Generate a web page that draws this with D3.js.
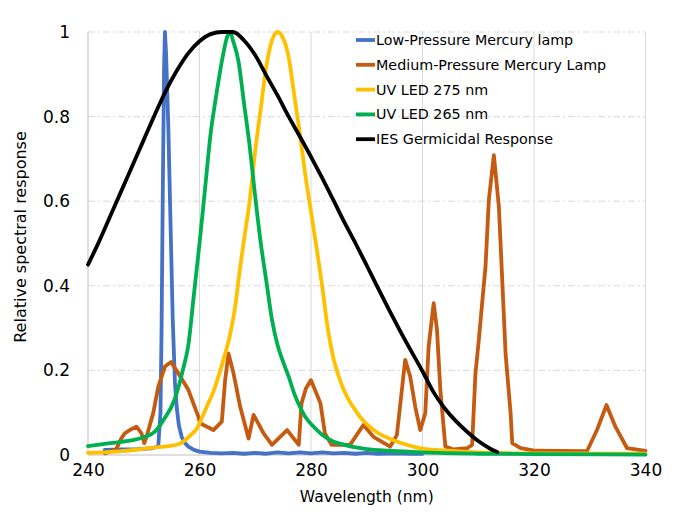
<!DOCTYPE html>
<html>
<head>
<meta charset="utf-8">
<script src="https://cdn.jsdelivr.net/npm/d3@7"></script>
<style>
  body { margin: 0; background: #fff; }
  svg { display: block; font-family: "DejaVu Sans", sans-serif; }
</style>
</head>
<body>
<svg id="chart" width="678" height="519"></svg>
<script>
// Low-pressure mercury lamp [nm, relative]
const lowPressure = [
  [243, 0.012], [246, 0.013], [249, 0.014], [251.5, 0.016], [252.6, 0.02],
  [253.0, 0.1], [253.2, 0.3], [253.4, 0.6], [253.65, 0.92], [253.8, 1.0],
  [254.0, 0.95], [254.4, 0.78], [254.8, 0.55], [255.2, 0.32], [255.6, 0.17],
  [255.9, 0.114], [256.3, 0.07], [256.8, 0.043], [257.4, 0.028], [258, 0.02],
  [259, 0.012], [260, 0.008], [262, 0.005], [264, 0.004], [266, 0.005],
  [268, 0.003], [270, 0.005], [272, 0.003], [274, 0.006], [276, 0.004],
  [278, 0.006], [280, 0.004], [282, 0.006], [284, 0.004], [286, 0.005],
  [288, 0.003], [290, 0.005], [292, 0.003], [295, 0.004], [298, 0.003], [300, 0.003]
];

// Medium-pressure mercury lamp
const mediumPressure = [
  [243, 0.004], [245, 0.012], [246, 0.04], [246.6, 0.051], [247.5, 0.059],
  [248.7, 0.067], [249.6, 0.051], [250.1, 0.028], [250.5, 0.043], [251.7, 0.099],
  [252.6, 0.161], [253.8, 0.209], [254.9, 0.22], [256.2, 0.193], [258, 0.154],
  [259.8, 0.09], [260.1, 0.075], [262.5, 0.059], [264, 0.079], [264.6, 0.177],
  [265.2, 0.24], [266.1, 0.193], [267.3, 0.114], [268.8, 0.039], [269.7, 0.095],
  [271.5, 0.051], [273, 0.024], [275.7, 0.059], [277.8, 0.024], [278.3, 0.122],
  [279.1, 0.158], [280, 0.177], [281.7, 0.122], [282.5, 0.051], [283.7, 0.024],
  [287, 0.024], [289.4, 0.071], [291.2, 0.043], [294.2, 0.02], [295.4, 0.047],
  [296.3, 0.154], [296.9, 0.225], [297.8, 0.185], [298.7, 0.114], [299.6, 0.059],
  [300.5, 0.099], [301.1, 0.256], [302, 0.359], [302.6, 0.296], [303.2, 0.154],
  [304.1, 0.02], [305.6, 0.013], [308, 0.016], [308.9, 0.024], [309.5, 0.193],
  [310.1, 0.272], [310.7, 0.359], [311.3, 0.445], [311.9, 0.603], [312.8, 0.709],
  [313.7, 0.587], [314.3, 0.414], [314.9, 0.24], [315.8, 0.099], [316.1, 0.028],
  [317.6, 0.016], [320.3, 0.01], [329.5, 0.009], [331.3, 0.059], [333, 0.118],
  [334.6, 0.067], [336.7, 0.016], [340, 0.01]
];

// UV LED 275 nm
const led275 = [
  [240, 0.005], [245, 0.008], [249, 0.013], [252, 0.018], [255, 0.022],
  [256.5, 0.027], [257.5, 0.036], [258.5, 0.048], [259.5, 0.062], [260.5, 0.09],
  [261.5, 0.12], [262.5, 0.15], [263.5, 0.19], [264.5, 0.235], [265.5, 0.285],
  [266.5, 0.36], [267, 0.414], [268, 0.51], [269, 0.6], [270, 0.72], [271, 0.82],
  [272, 0.92], [273, 0.98], [274, 1.0], [275, 0.985], [276, 0.94], [277, 0.85],
  [278, 0.76], [279, 0.66], [280, 0.575], [281, 0.49], [282, 0.4], [283, 0.3],
  [284, 0.23], [285, 0.185], [286, 0.15], [287, 0.125], [288, 0.105], [289, 0.087],
  [290, 0.073], [292, 0.052], [294, 0.039], [296, 0.029], [298, 0.021], [300, 0.015],
  [305, 0.01], [310, 0.006], [320, 0.004], [340, 0.003]
];

// UV LED 265 nm
const led265 = [
  [240, 0.021], [244, 0.028], [248, 0.035], [250, 0.042], [252, 0.055],
  [254, 0.092], [255, 0.115], [256, 0.15], [257, 0.2], [258, 0.26], [259, 0.38],
  [260, 0.5], [261, 0.63], [262, 0.76], [263, 0.85], [264, 0.93], [265, 0.99],
  [265.5, 1.0], [266, 0.98], [267, 0.93], [268, 0.83], [269, 0.73], [270, 0.61],
  [271, 0.5], [272, 0.41], [273, 0.32], [274, 0.26], [275, 0.22], [276, 0.185],
  [277, 0.145], [278, 0.114], [279, 0.09], [280, 0.073], [281, 0.06], [282, 0.048],
  [284, 0.032], [286, 0.024], [288, 0.018], [290, 0.014], [294, 0.01], [300, 0.006],
  [310, 0.003], [320, 0.002], [340, 0.001]
];

// IES germicidal response
const iesGermicidal = [
  [240, 0.45], [242, 0.505], [244, 0.565], [246, 0.625], [248, 0.685], [250, 0.745],
  [252, 0.805], [254, 0.862], [256, 0.91], [258, 0.95], [260, 0.978], [262, 0.995],
  [264, 1.0], [266, 1.0], [268, 0.98], [270, 0.945], [272, 0.897], [274, 0.85],
  [276, 0.8], [278, 0.753], [280, 0.705], [282, 0.655], [284, 0.603], [286, 0.55],
  [288, 0.5], [290, 0.448], [292, 0.395], [294, 0.343], [296, 0.293], [298, 0.245],
  [300, 0.198], [302, 0.148], [304, 0.11], [306, 0.08], [308, 0.055], [310, 0.033],
  [312, 0.016], [313.4, 0.007]
];

const xTicks = [240, 260, 280, 300, 320, 340];
const yTicks = [0, 0.2, 0.4, 0.6, 0.8, 1];

const series = [
  { name: 'Low-Pressure Mercury lamp', data: lowPressure, color: '#4472C4', smooth: false },
  { name: 'Medium-Pressure Mercury Lamp', data: mediumPressure, color: '#C55A11', smooth: false },
  { name: 'UV LED 275 nm', data: led275, color: '#FFC000', smooth: true },
  { name: 'UV LED 265 nm', data: led265, color: '#00B050', smooth: true },
  { name: 'IES Germicidal Response', data: iesGermicidal, color: '#000000', smooth: true }
];

const svg = d3.select('#chart');
const plotLeft = 88, plotRight = 645.5, plotTop = 32, plotBottom = 455;

const x = d3.scaleLinear().domain([240, 340]).range([plotLeft, plotRight]);
const y = d3.scaleLinear().domain([0, 1]).range([plotBottom, plotTop]);

// horizontal grid (dash-dot)
svg.append('g')
  .selectAll('line')
  .data(yTicks.filter(d => d > 0))
  .join('line')
  .attr('x1', plotLeft).attr('x2', plotRight)
  .attr('y1', d => y(d)).attr('y2', d => y(d))
  .attr('stroke', '#d9d9d9')
  .attr('stroke-width', 1)
  .attr('stroke-dasharray', '7,3,2,3');

// vertical grid
svg.append('g')
  .selectAll('line')
  .data(xTicks)
  .join('line')
  .attr('x1', d => x(d)).attr('x2', d => x(d))
  .attr('y1', plotTop).attr('y2', plotBottom)
  .attr('stroke', d => d === 240 ? '#bfbfbf' : '#d9d9d9')
  .attr('stroke-width', 1);

// bottom axis line
svg.append('line')
  .attr('x1', plotLeft).attr('x2', plotRight)
  .attr('y1', plotBottom).attr('y2', plotBottom)
  .attr('stroke', '#bfbfbf');

// tick labels
const xAxis = svg.append('g')
  .attr('transform', `translate(0,${plotBottom})`)
  .call(d3.axisBottom(x).tickValues(xTicks).tickSize(0).tickPadding(9).tickFormat(d3.format('d')));
xAxis.select('.domain').remove();
xAxis.selectAll('text').attr('font-size', 17).attr('fill', '#000').attr('font-family', '"DejaVu Sans", sans-serif');

const yAxis = svg.append('g')
  .attr('transform', `translate(${plotLeft},0)`)
  .call(d3.axisLeft(y).tickValues(yTicks).tickSize(0).tickPadding(18).tickFormat(d => d === 0 || d === 1 ? d3.format('d')(d) : d3.format('.1f')(d)));
yAxis.select('.domain').remove();
yAxis.selectAll('text').attr('font-size', 17).attr('fill', '#000').attr('font-family', '"DejaVu Sans", sans-serif');

// axis titles
svg.append('text')
  .attr('x', (plotLeft + plotRight) / 2)
  .attr('y', 502)
  .attr('text-anchor', 'middle')
  .attr('font-size', 15.5)
  .text('Wavelength (nm)');

svg.append('text')
  .attr('transform', 'translate(26,237) rotate(-90)')
  .attr('text-anchor', 'middle')
  .attr('font-size', 16)
  .text('Relative spectral response');

// series lines
const linear = d3.line().x(d => x(d[0])).y(d => y(d[1]));
const smooth = d3.line().x(d => x(d[0])).y(d => y(d[1])).curve(d3.curveMonotoneX);

svg.append('g')
  .selectAll('path')
  .data(series)
  .join('path')
  .attr('d', s => (s.smooth ? smooth : linear)(s.data))
  .attr('fill', 'none')
  .attr('stroke', s => s.color)
  .attr('stroke-width', 3.8)
  .attr('stroke-linejoin', 'round')
  .attr('stroke-linecap', 'round');

// legend
const legend = svg.append('g').attr('transform', 'translate(356,40)');
const rows = legend.selectAll('g')
  .data(series)
  .join('g')
  .attr('transform', (d, i) => `translate(0,${i * 24.8})`);
rows.append('line')
  .attr('x1', 0).attr('x2', 19)
  .attr('stroke', d => d.color)
  .attr('stroke-width', 3.8);
rows.append('text')
  .attr('x', 20)
  .attr('y', 5)
  .attr('font-size', 14.3)
  .text(d => d.name);
</script>
</body>
</html>
